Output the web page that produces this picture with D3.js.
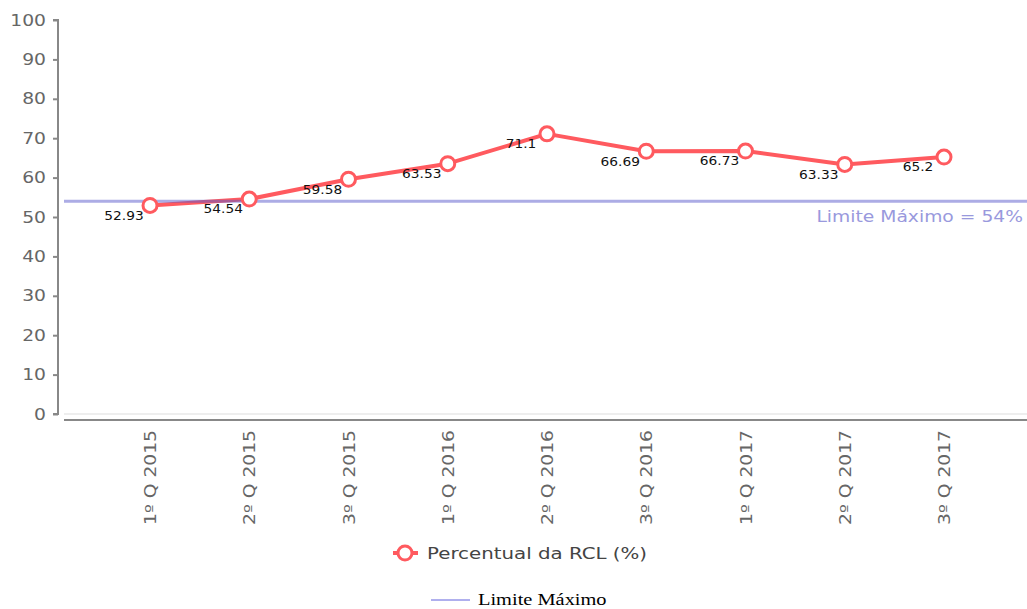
<!DOCTYPE html>
<html>
<head>
<meta charset="utf-8">
<script src="https://cdn.jsdelivr.net/npm/d3@7"></script>
<style>
  body { margin: 0; background: #fff; }
  svg { display: block; }
</style>
</head>
<body>
<svg></svg>
<script>
const quarters = ["1º Q 2015", "2º Q 2015", "3º Q 2015", "1º Q 2016", "2º Q 2016", "3º Q 2016", "1º Q 2017", "2º Q 2017", "3º Q 2017"];
const percentual = [52.93, 54.54, 59.58, 63.53, 71.1, 66.69, 66.73, 63.33, 65.2];
const limite = 54;
const yTicks = [0, 10, 20, 30, 40, 50, 60, 70, 80, 90, 100];

const width = 1027, height = 609;
const red = "#ff5a5f";
const sx = 1.17; // the original chart's fonts are rendered wide
const sans = "DejaVu Sans, sans-serif";

const svg = d3.select("svg").attr("width", width).attr("height", height);

const x = d3.scalePoint().domain(quarters).range([150, 944]);
const y = d3.scaleLinear().domain([0, 100]).range([414, 20]);

// zero grid line
svg.append("line")
    .attr("x1", 64).attr("x2", width)
    .attr("y1", y(0)).attr("y2", y(0))
    .attr("stroke", "#eeeeee").attr("stroke-width", 2);

// y axis
const yAxis = svg.append("g")
    .attr("transform", "translate(58,0)")
    .call(d3.axisLeft(y).tickValues(yTicks).tickSize(5));
yAxis.select(".domain").attr("stroke", "#888").attr("stroke-width", 2).attr("d", `M-5,${y(100)}H0V${y(0)}H-5`);
yAxis.selectAll(".tick line").attr("stroke", "#888").attr("stroke-width", 2);
yAxis.selectAll(".tick text")
    .attr("fill", "#666")
    .attr("x", -12 / sx)
    .attr("transform", `scale(${sx},1)`)
    .style("font-family", sans)
    .style("font-size", "16px");

// x axis
const xAxis = svg.append("g")
    .attr("transform", "translate(0,420)")
    .call(d3.axisBottom(x).tickSize(0));
xAxis.select(".domain").attr("stroke", "#888").attr("stroke-width", 2).attr("d", `M64,0H${width}`);
xAxis.selectAll(".tick text")
    .attr("fill", "#666")
    .attr("transform", `rotate(-90) scale(${sx},1)`)
    .attr("x", -10 / sx).attr("y", 0).attr("dy", "0.35em")
    .attr("text-anchor", "end")
    .style("font-family", sans)
    .style("font-size", "16px");

// series line
const line = d3.line().x((d, i) => x(quarters[i])).y(d => y(d));
svg.append("path")
    .datum(percentual)
    .attr("fill", "none")
    .attr("stroke", red)
    .attr("stroke-width", 4)
    .attr("stroke-linejoin", "round")
    .attr("d", line);

// limit line
svg.append("line")
    .attr("x1", 64).attr("x2", width)
    .attr("y1", y(limite)).attr("y2", y(limite))
    .attr("stroke", "#5a5acc").attr("stroke-opacity", 0.5).attr("stroke-width", 3);

svg.append("text")
    .attr("transform", `translate(1023,${y(limite) + 21}) scale(${sx},1)`)
    .attr("text-anchor", "end")
    .attr("fill", "#9999dd")
    .style("font-family", sans)
    .style("font-size", "16px")
    .text(`Limite Máximo = ${limite}%`);

// markers
svg.selectAll("circle.pt")
    .data(percentual)
    .join("circle")
    .attr("class", "pt")
    .attr("cx", (d, i) => x(quarters[i]))
    .attr("cy", d => y(d))
    .attr("r", 7)
    .attr("fill", "#fff")
    .attr("stroke", red)
    .attr("stroke-width", 3);

// data labels
svg.selectAll("text.lbl")
    .data(percentual)
    .join("text")
    .attr("class", "lbl")
    .attr("transform", (d, i) => `translate(${x(quarters[i]) - 26},${y(d) + 10}) scale(1.1,1)`)
    .attr("dy", "0.35em")
    .attr("text-anchor", "middle")
    .attr("fill", "#111")
    .style("font-family", sans)
    .style("font-size", "12.5px")
    .text(d => d);

// legend: series
const leg = svg.append("g").attr("transform", "translate(405,553)");
leg.append("line").attr("x1", -12).attr("x2", 13).attr("stroke", red).attr("stroke-width", 4);
leg.append("circle").attr("r", 7).attr("fill", "#fff").attr("stroke", red).attr("stroke-width", 3);
leg.append("text")
    .attr("transform", `translate(22,0) scale(1.2,1)`)
    .attr("dy", "0.35em")
    .attr("fill", "#444")
    .style("font-family", sans)
    .style("font-size", "16.5px")
    .text("Percentual da RCL (%)");

// legend: limit
const leg2 = svg.append("g").attr("transform", "translate(431,600)");
leg2.append("line").attr("x1", 0).attr("x2", 39).attr("stroke", "#6060dd").attr("stroke-width", 1);
leg2.append("text")
    .attr("transform", `translate(47,5) scale(1.2,1)`)
    .attr("fill", "#000")
    .style("font-family", "Liberation Serif, serif")
    .style("font-size", "17px")
    .text("Limite Máximo");
</script>
</body>
</html>
